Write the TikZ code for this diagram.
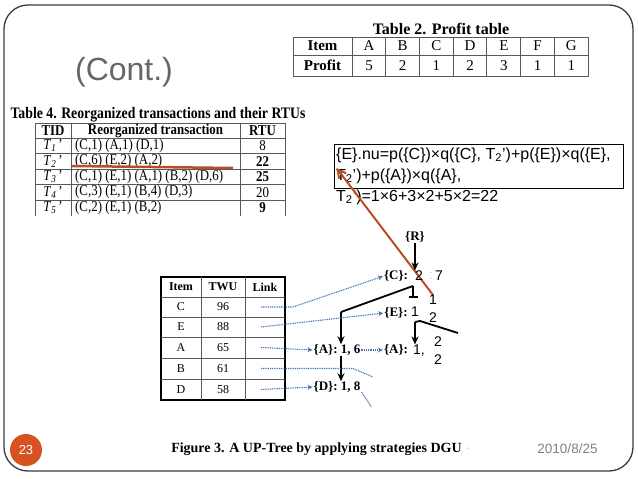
\documentclass[tikz,border=0pt]{standalone}
\usepackage{fontspec}
\setmainfont{Liberation Serif}
\newfontfamily\arial{Liberation Sans}
\usepackage{xcolor}
\usepackage{tikz}
\usetikzlibrary{arrows.meta, positioning, calc}
\definecolor{rust}{RGB}{185,78,38}
\definecolor{linkblue}{RGB}{72,118,178}
\definecolor{badge}{RGB}{214,82,32}
\definecolor{framegray}{RGB}{60,60,60}
\newcommand{\fsz}[1]{\fontsize{#1}{#1}\selectfont}
\newcommand{\narrow}[1]{\scalebox{0.86}[1]{#1}}

\begin{document}
\begin{tikzpicture}[x=1pt, y=-1pt, >=Stealth, every node/.style={inner sep=0pt},
  tline/.style={draw=gray!70!black, line width=0.7pt},
  hd/.style={font=\bfseries\fsz{15}}, cell/.style={font=\fsz{15}},
  rowtxt/.style={font=\fsz{15}},
  hd2/.style={font=\bfseries\fsz{12}}, cell2/.style={font=\fsz{12}},
  tree/.style={font=\bfseries\fsz{13}}, num/.style={font=\arial\fsz{14}},
  blk/.style={line width=1.8pt},
  tarrow/.style={blk, -{Stealth[length=8pt,width=7pt]}},
  link/.style={linkblue, line width=1.1pt, dash pattern=on 1pt off 0.8pt},
  larrow/.style={link, -{Stealth[length=5pt,width=5pt]}, shorten >=1pt}]
  \useasboundingbox (0,0) rectangle (638,479);
  \draw[framegray, line width=1.3pt, rounded corners=24pt] (4,5) rectangle (633,471);
  \node[font=\arial\fsz{32}, text=gray!80!black] (title) at (124,72) {(Cont.)};

  % profit table
  \node[font=\bfseries\fsz{16}] (t2cap) at (441,29) {Table 2. Profit table};
  \draw[tline] (293,37) rectangle (588,76) (293,55) -- (588,55);
  \foreach \i in {0,...,6} \draw[tline] ({352+33.71*\i},37) -- ({352+33.71*\i},76);
  \node[hd] (t2item) at (322.5,46) {Item};
  \node[hd] (t2prof) at (322.5,65.5) {Profit};
  \foreach \c/\p [count=\i from 0] in {A/5,B/2,C/1,D/2,E/3,F/1,G/1} {
    \node[cell] (h\c) at ({369+33.71*\i},46) {\c};
    \node[cell] (p\c) at ({369+33.71*\i},65.5) {\p};
  }

  % reorganized transactions
  \node[font=\bfseries\fsz{16}] (t4cap) at (158,115) {\narrow{Table 4. Reorganized transactions and their RTUs}};
  \begin{scope}
    \clip (30,118) rectangle (290,215);
    \draw[tline] (35,123) -- (285,123);
    \foreach \y in {138,153.5,169,184.5,200} \draw[tline] (35,\y) -- (285,\y);
    \foreach \x in {35,71,240,285} \draw[tline] (\x,123) -- (\x,216);
    \node[rowtxt, font=\bfseries\fsz{15}] (hTID) at (53,130.5) {\narrow{TID}};
    \node[rowtxt, font=\bfseries\fsz{15}] (hTR) at (155.5,130.5) {\narrow{Reorganized transaction}};
    \node[rowtxt, font=\bfseries\fsz{15}] (hRTU) at (262.5,130.5) {\narrow{RTU}};
    \foreach \k/\trans/\rtu [count=\i from 0] in {1/{(C,1) (A,1) (D,1)}/8, 2/{(C,6) (E,2) (A,2)}/\textbf{22},
      3/{(C,1) (E,1) (A,1) (B,2) (D,6)}/\textbf{25}, 4/{(C,3) (E,1) (B,4) (D,3)}/20, 5/{(C,2) (E,1) (B,2)}/\textbf{9}} {
      \node[rowtxt] (tid\k) at (53,{145.75+15.5*\i}) {\narrow{\textit{T}\textsubscript{\textit{\k}}\,’}};
      \node[rowtxt, anchor=west] (tr\k) at (75,{145.75+15.5*\i}) {\narrow{\trans}};
      \node[rowtxt] (rtu\k) at (262.5,{145.75+15.5*\i}) {\narrow{\rtu}};
    }
  \end{scope}
  \draw[rust, line width=2.5pt] (72,166) -- (233,168);

  % callout
  \node[draw, line width=1pt, minimum width=289, minimum height=44] (cbox) at (478.5,166) {};
  \node[font=\arial\fontsize{16}{21}\selectfont, align=left, anchor=north west] (ctext) at (336,147.5)
    {\{E\}.nu=p(\{C\})×q(\{C\}, T\textsubscript{2}’)+p(\{E\})×q(\{E\},\\
     T\textsubscript{2}’)+p(\{A\})×q(\{A\},\\
     T\textsubscript{2}’)=1×6+3×2+5×2=22};

  % TWU table
  \draw[line width=1.8pt] (161,277) rectangle (285,400);
  \foreach \x in {201,245} \draw[tline] (\x,277) -- (\x,400);
  \foreach \y in {297,317,337,358,379} \draw[tline] (161,\y) -- (285,\y);
  \node[hd2] (twItem) at (181,287) {Item};
  \node[hd2] (twTWU) at (223,287) {TWU};
  \node[hd2] (twLink) at (265,287) {Link};
  \foreach \itm/\tw/\y in {C/96/307, E/88/327, A/65/347.5, B/61/368.5, D/58/389.5} {
    \node[cell2] (i\itm) at (181,\y) {\itm};
    \node[cell2] (w\itm) at (223,\y) {\tw};
    \coordinate (l\itm) at (261,\y);
  }

  % UP-tree
  \coordinate (rtail) at (433,295);
  \draw[rust, line width=2pt, -{Straight Barb[length=8pt,width=9pt]}] (rtail) -- ($(cbox.west)+(3,2)$);
  \node[tree] (nR) at (415,237) {\{R\}};
  \node[tree] (nC) at (396,276) {\{C\}:};
  \node[num] (nC2) at (419,276) {2};
  \node[num, text=gray!35] (nCc) at (431,276) {:};
  \node[num] (nC7) at (439,276) {7};
  \node[tree] (nE) at (396,313) {\{E\}:};
  \node[num] (nE1) at (415,312) {1};
  \node[tree] (nA1) at (337,350) {\{A\}: 1, 6};
  \node[tree] (nA2) at (396,350) {\{A\}:};
  \node[num] (nA21) at (419,351) {1,};
  \node[tree] (nD) at (337,387) {\{D\}: 1, 8};
  \node[num] (q1) at (433,300) {1};
  \node[num] (q2) at (433,318) {2};
  \node[num] (q3) at (438,342) {2};
  \node[num] (q4) at (438,360) {2};

  \coordinate (cfork) at (413,286);
  \coordinate (abend) at (341,312);
  \coordinate (efork) at (415,322);
  \draw[tarrow] (nR.south) -- (nR |- nC.north);
  \draw[blk] (cfork) -- (abend);
  \draw[tarrow] (abend) -- (abend |- nA1.north);
  \draw[blk, -{Bar[width=9pt]}] (cfork) -- ($(cfork)+(0,12)$);
  \draw[tarrow] (efork) -- (efork |- nA2.north);
  \draw[blk] (efork) -- (420,321) -- (458,333);
  \draw[tarrow] (abend |- nA1.south) -- (abend |- nD.north);

  % links
  \draw[larrow] (lC) -- (293,307) -- (nC.west);
  \draw[larrow] (lE) -- (nE.west);
  \draw[larrow] (lA) -- (nA1.west);
  \draw[larrow] (nA1.east) -- (nA2.west);
  \draw[link] (lB) -- (353,368.5) -- (373,377);
  \draw[larrow] (lD) -- (nD.west);
  \draw[link] ($(nD.east)+(1,5)$) -- ++(10,15);

  % footer
  \node[circle, fill=badge, minimum size=32pt, text=white, font=\arial\fsz{13}] (pnum) at (26,450) {23};
  \node[font=\bfseries\fsz{14}] (cap) at (316.5,449) {Figure 3. A UP-Tree by applying strategies DGU};
  \node[font=\arial\fsz{14}, text=gray!40, right=4pt of cap] (capdot) {.};
  \node[font=\arial\fsz{13.5}, text=gray] (date) at (567.5,449) {2010/8/25};
\end{tikzpicture}
\end{document}
